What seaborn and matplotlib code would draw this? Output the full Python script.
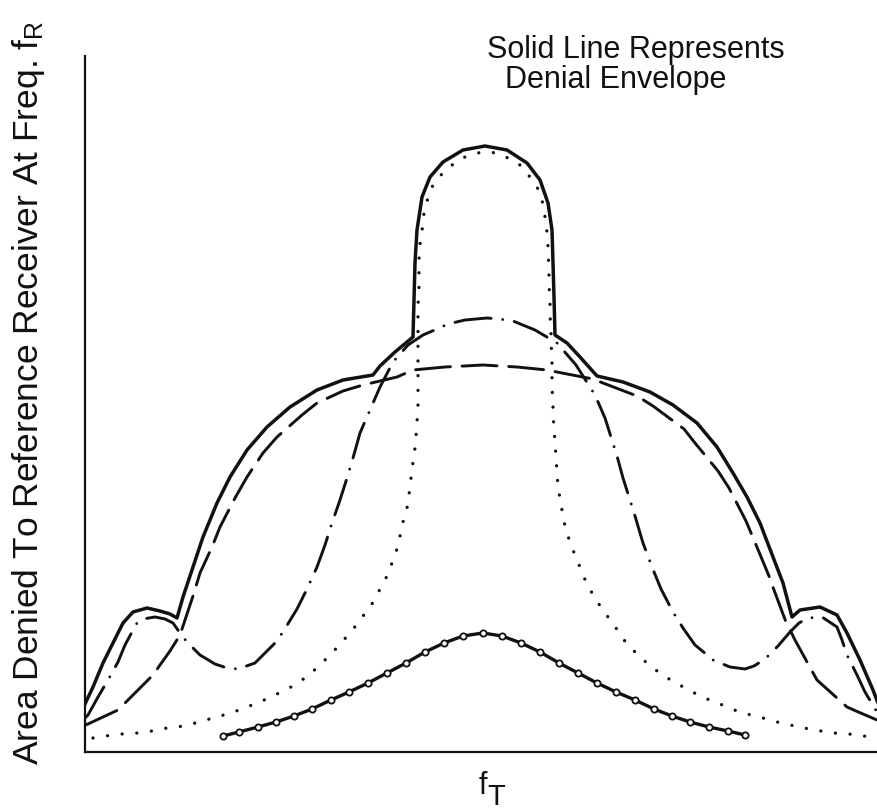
import numpy as np
import pandas as pd
import matplotlib
matplotlib.use("Agg")
import matplotlib.pyplot as plt
import seaborn as sns

# ---------------- data (arbitrary frequency offset from f_T, arbitrary area units) -------------
# dotted curve (narrow, tall response)
dot_x = [-390, -378, -361, -345, -331, -316, -299, -284, -270, -252, -236, -221, -206, -192,
         -178, -165, -151, -141, -129, -120, -111, -104, -97, -91, -86, -83, -80, -76, -74,
         -72, -70, -68, -67, -66, -65, -65, -65, -65, -65, -65, -65, -65, -64, -64, -64, -63,
         -61, -60, -58, -55, -51, -45, -36, -27, -18, -6, 4, 14, 25, 37, 47, 54, 59, 60, 63,
         64, 65, 66, 66, 67, 67, 68, 68, 69, 69, 69, 70, 70, 71, 72, 73, 74, 75, 78, 80, 84,
         89, 94, 99, 105, 112, 121, 129, 141, 152, 165, 178, 191, 204, 217, 229, 242, 254,
         268, 280, 294, 307, 321, 338, 351, 366, 381, 394]
dot_y = [14, 16, 18, 19, 21, 24, 26, 30, 34, 39, 45, 51, 58, 65,
         74, 85, 99, 110, 124, 136, 148, 161, 174, 189, 203, 216, 230, 244, 257,
         274, 290, 304, 316, 330, 345, 360, 376, 389, 402, 418, 432, 447, 462, 477, 492, 508,
         520, 533, 544, 554, 565, 574, 583, 590, 595, 599, 600, 599, 594, 587, 575, 565, 554, 544, 531,
         519, 505, 480, 466, 454, 437, 423, 409, 395, 380, 364, 351, 337, 324, 310, 295, 280, 264, 249, 234, 219,
         204, 193, 179, 166, 154, 140, 130, 112, 100, 88, 78, 70, 63, 56, 51, 46, 41,
         37, 34, 30, 27, 24, 21, 19, 18, 16, 14]

# dash-dot curve (main lobe with side lobes)
dd_x = [-398, -395, -385, -375, -370, -365, -358, -351, -346, -340, -328, -318, -310, -303,
        -296, -283, -268, -256, -245, -228, -215, -206, -197, -186, -176, -166, -158, -151,
        -143, -136, -130, -123, -113, -103, -90, -75, -60, -46, -35, -18, 4, 16, 30, 52, 74,
        93, 112, 122, 134, 140, 152, 160, 169, 178, 190, 200, 212, 223, 230, 247, 262, 271,
        282, 295, 307, 316, 325, 339, 354, 359, 364, 374, 382, 394]
dd_y = [34, 37, 55, 72, 81, 90, 107, 120, 129, 133, 135, 133, 129, 119,
        110, 97, 88, 84, 83, 89, 102, 111, 125, 143, 163, 185, 207, 229,
        252, 274, 294, 319, 342, 365, 390, 407, 417, 423, 428, 432, 434, 433, 431, 422, 409,
        387, 357, 334, 296, 274, 236, 209, 185, 163, 140, 124, 107, 98, 92, 85, 83, 86,
        93, 106, 120, 129, 134, 135, 125, 112, 97, 77, 60, 40]

# dashed curve (broad response)
da_x = [-398, -395, -365, -353, -330, -323, -313, -303, -298, -289, -283, -271, -263, -248,
        -236, -220, -206, -181, -166, -140, -120, -86, -70, -38, 0, 34, 64, 79, 110, 120,
        154, 170, 201, 212, 235, 246, 263, 271, 286, 291, 303, 312, 329, 334, 364, 373, 394]
da_y = [27, 28, 42, 54, 77, 87, 101, 117, 132, 159, 179, 205, 225, 254,
        275, 299, 315, 337, 349, 361, 367, 375, 382, 385, 387, 385, 382, 379, 373, 369,
        356, 346, 323, 309, 281, 264, 231, 212, 176, 162, 130, 112, 81, 72, 45, 41, 32]

# solid curve with circles (low, bell-shaped)
bell_x = [-260, -244, -225, -207, -189, -171, -152, -134, -115, -96, -77, -58, -39, -20, 0,
          19, 38, 57, 76, 95, 114, 133, 152, 171, 189, 207, 226, 245, 262]
bell_y = [16, 20, 25, 30, 36, 43, 52, 60, 69, 79, 89, 100, 109, 116, 119,
          116, 109, 100, 89, 79, 69, 60, 52, 43, 36, 30, 25, 21, 17]

# solid denial envelope
env_x = [-398, -390, -380, -370, -360, -350, -336, -323, -313, -306, -300, -290, -280, -266,
         -253, -236, -216, -193, -166, -140, -110, -103, -88, -70, -69, -68, -66, -61, -53,
         -40, -20, 2, 24, 44, 57, 65, 69, 70, 71, 72, 84, 97, 114, 140, 167, 190, 214, 234,
         250, 264, 277, 290, 300, 309, 317, 337, 354, 364, 377, 390, 395]
env_y = [48, 65, 89, 109, 129, 140, 144, 141, 138, 134, 155, 185, 215, 249,
         275, 302, 325, 345, 362, 372, 377, 386, 400, 415, 452, 489, 522, 555, 575,
         590, 602, 606, 602, 589, 572, 549, 522, 489, 455, 417, 409, 395, 376, 370, 360, 347, 329, 305,
         279, 255, 229, 195, 169, 135, 142, 145, 137, 119, 92, 62, 49]

x_ticks = [0]
x_ticklabels = ["f"]
x_tick_sub = "T"
y_label = r"Area Denied To Reference Receiver At Freq. f$_\mathrm{R}$"
note_line1 = "Solid Line Represents"
note_line2 = "Denial Envelope"

# ---------------- styling ---------------------------------------------------------------------
sns.set_theme(style="white")
plt.rcParams["font.family"] = ["Liberation Sans", "DejaVu Sans"]
plt.rcParams["mathtext.fontset"] = "custom"
plt.rcParams["mathtext.rm"] = "Liberation Sans"
plt.rcParams["mathtext.it"] = "Liberation Sans:italic"

W, H = 878, 811
fig = plt.figure(figsize=(W / 100, H / 100), dpi=100)
ax = fig.add_axes([85 / W, 1 - 752 / H, (W - 85) / W, (752 - 56) / H])

ink = "#111111"

sns.lineplot(x=dot_x, y=dot_y, ax=ax, sort=False, estimator=None, color=ink,
             linewidth=2.4, linestyle=(0, (0.01, 4.4)), dash_capstyle="round")
sns.lineplot(x=dd_x, y=dd_y, ax=ax, sort=False, estimator=None, color=ink,
             linewidth=2.1, linestyle=(0, (12.5, 4.0, 0.01, 4.0)), dash_capstyle="round")
sns.lineplot(x=da_x, y=da_y, ax=ax, sort=False, estimator=None, color=ink,
             linewidth=2.1, linestyle=(0, (12.0, 4.0)), dash_capstyle="round")
sns.lineplot(x=bell_x, y=bell_y, ax=ax, sort=False, estimator=None, color=ink,
             linewidth=2.4, marker="o", markersize=4.5, markerfacecolor="white",
             markeredgecolor=ink, markeredgewidth=1.3)
sns.lineplot(x=env_x, y=env_y, ax=ax, sort=False, estimator=None, color=ink,
             linewidth=2.5, solid_joinstyle="round")

ax.set_xlim(-398, 395)
ax.set_ylim(0, 696)
for side in ["top", "right"]:
    ax.spines[side].set_visible(False)
for side in ["left", "bottom"]:
    ax.spines[side].set_color(ink)
    ax.spines[side].set_linewidth(1.6)
ax.set_yticks([])
ax.set_xticks(x_ticks)
ax.set_xticklabels(x_ticklabels, fontsize=22, color=ink)
ax.tick_params(axis="x", direction="in", length=14, width=1.5, color=ink, pad=14)
ax.set_xlabel("")
ax.set_ylabel("")

# subscript of the tick label
ax.annotate(x_tick_sub, xy=(0, 0), xycoords=("data", "axes fraction"),
            xytext=(13, -53), textcoords="offset pixels", ha="center", va="baseline",
            fontsize=21, color=ink, annotation_clip=False)

fig.text(29 / W, 1 - 393 / H, y_label, rotation=90, ha="center", va="center",
         fontsize=25.5, color=ink)
fig.text(487 / W, 1 - 58 / H, note_line1, ha="left", va="baseline", fontsize=22, color=ink)
fig.text(505 / W, 1 - 88 / H, note_line2, ha="left", va="baseline", fontsize=22, color=ink)

fig.savefig("out.png", dpi=100)
